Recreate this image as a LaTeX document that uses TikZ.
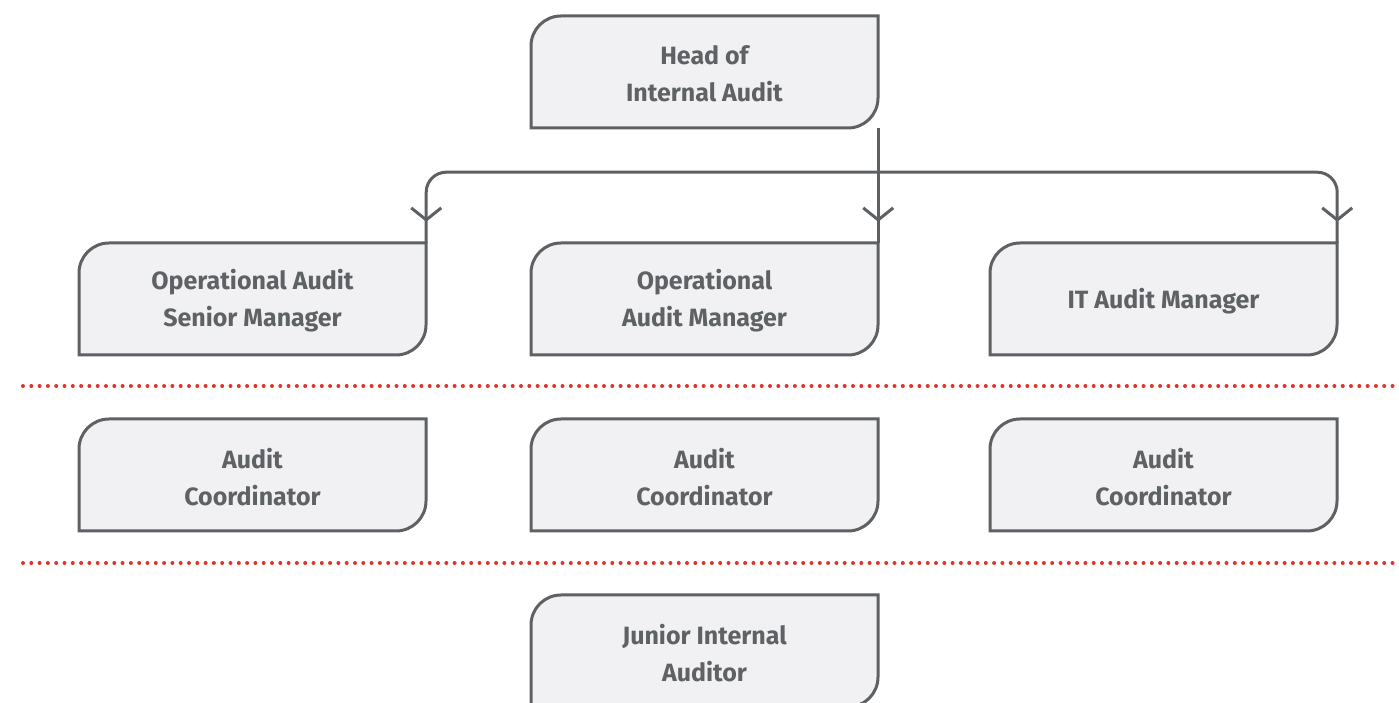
\documentclass[tikz,border=0pt]{standalone}
\usepackage{fontspec}
\setmainfont{Fira Sans}
\usetikzlibrary{arrows.meta,decorations.markings}

\definecolor{edge}{HTML}{5E6164}
\definecolor{cardfill}{HTML}{F1F1F3}
\definecolor{ink}{HTML}{5F6265}
\definecolor{sepred}{HTML}{E0342A}

\tikzset{
  x=1pt, y=1pt,
  card/.style={minimum width=347pt, minimum height=112pt, inner sep=0pt},
  cardtext/.style={inner sep=0pt, align=center, text=ink,
    font=\fontsize{25}{37}\selectfont\bfseries},
  outline/.style={draw=edge, fill=cardfill, line width=3pt},
  conn/.style={draw=edge, line width=3pt, rounded corners=20pt},
  arrowmark/.style={postaction={decorate}, decoration={markings,
    mark=at position -21pt with {\arrow[edge]{Straight Barb[length=12pt,width=30pt,line width=3pt]}}}},
  separator/.style={draw=sepred, line width=4pt, line cap=round,
    dash pattern=on 0pt off 8.3pt},
}

% card with rounded top-left and bottom-right corners; #1 names the card,
% #1-label its caption
\newcommand\orgcard[4]{%
  \path[outline] (#2-173.5,#3-56) -- (#2-173.5,#3+26)
    arc[start angle=180, end angle=90, radius=30] -- (#2+173.5,#3+56)
    -- (#2+173.5,#3-26) arc[start angle=0, end angle=-90, radius=30] -- cycle;
  \node[card] (#1) at (#2,#3) {};
  \node[cardtext] (#1-label) at ([yshift=-2pt]#1.center) {#4};
}

\begin{document}
\begin{tikzpicture}
\useasboundingbox (0,0) rectangle (1399,703);

\orgcard{head}{704.5}{631}{Head of\\Internal Audit}

\orgcard{opsr}{252.5}{404}{Operational Audit\\Senior Manager}
\orgcard{opmgr}{704.5}{404}{Operational\\Audit Manager}
\orgcard{itmgr}{1163.5}{404}{IT Audit Manager}

\orgcard{coordA}{252.5}{228}{Audit\\Coordinator}
\orgcard{coordB}{704.5}{228}{Audit\\Coordinator}
\orgcard{coordC}{1163.5}{228}{Audit\\Coordinator}

\orgcard{junior}{704.5}{52}{Junior Internal\\Auditor}

% reporting lines
\coordinate (split) at ([yshift=-44pt]head.south east);
\draw[conn, arrowmark] (head.south east) -- (opmgr.north east);
\draw[conn, arrowmark] (split) -| (opsr.north east);
\draw[conn, arrowmark] (split) -| (itmgr.north east);

% level separators
\coordinate (sepAl) at (23,317);
\coordinate (sepAr) at (1399,317);
\coordinate (sepBl) at (23,140);
\coordinate (sepBr) at (1399,140);
\draw[separator] (sepAl) -- (sepAr);
\draw[separator] (sepBl) -- (sepBr);
\end{tikzpicture}
\end{document}
